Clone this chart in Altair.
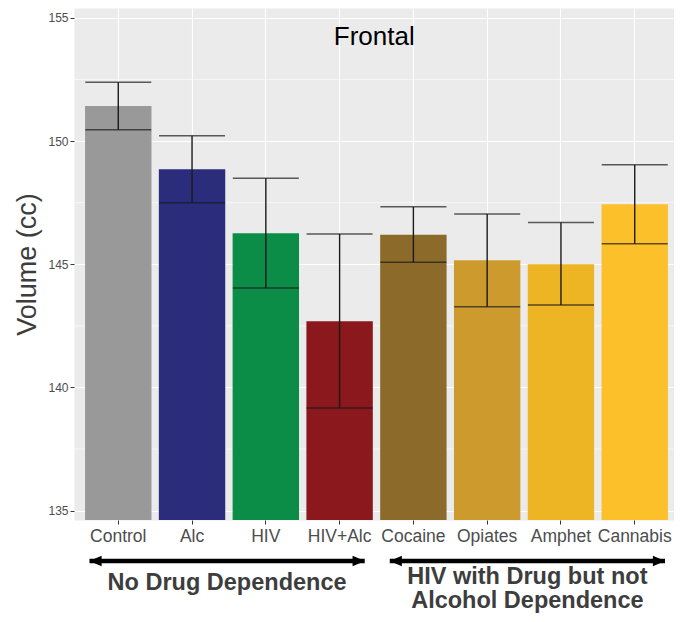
import altair as alt
import pandas as pd

# ---- data ----
groups = ["Control", "Alc", "HIV", "HIV+Alc", "Cocaine", "Opiates", "Amphet", "Cannabis"]
means = [151.42, 148.86, 146.26, 142.69, 146.20, 145.16, 145.00, 147.44]
err_hi = [152.39, 150.22, 148.49, 146.23, 147.33, 147.04, 146.69, 149.04]
err_lo = [150.46, 147.50, 144.04, 139.17, 145.08, 143.28, 143.35, 145.83]
colors = ["#999999", "#2b2d7c", "#0b8c47", "#8a181c", "#8b6a2a", "#cd9b2d", "#edb424", "#fcc02a"]

y_domain = [134.62, 155.40]
y_ticks = [135, 140, 145, 150, 155]
y_minor = [137.5, 142.5, 147.5, 152.5]

panel_title = "Frontal"
y_title = "Volume (cc)"

# group annotations below the axis (x in category slots from the panel's left edge)
PAD_L = 66
PLOT_W = 600
STEP = 73.78
slot_domain = [0, PLOT_W / STEP]
title_slot = 4.07
arrow_start = [0.21, 4.28]
arrow_end = [3.94, 8.01]
group_line1 = ["No Drug Dependence", "HIV with Drug but not"]
group_line2 = ["", "Alcohol Dependence"]

FONT = "Liberation Sans"

df = pd.DataFrame({"group": groups, "mean": means, "hi": err_hi, "lo": err_lo})
minor_df = pd.DataFrame({"v": y_minor})
arrows = pd.DataFrame({
    "start": arrow_start,
    "end": arrow_end,
    "mid": [(a + b) / 2 for a, b in zip(arrow_start, arrow_end)],
    "l1": group_line1,
    "l2": group_line2,
})
title_df = pd.DataFrame({"t": [panel_title], "x": [title_slot]})

po = (PLOT_W / STEP - 7.9) / 2
xenc = alt.X(
    "group:N",
    sort=groups,
    scale=alt.Scale(paddingInner=0.1, paddingOuter=po, align=0.15 / (2 * po)),
    axis=alt.Axis(
        title=None, labelAngle=0, grid=True, bandPosition=0.5, gridColor="white",
        gridWidth=1.1, tickColor="#333333", tickSize=4, tickWidth=1,
        labelFontSize=17.5, labelColor="#4d4d4d", labelPadding=3, domain=False,
        labelFont=FONT,
    ),
)
yscale = alt.Scale(domain=y_domain, nice=False, zero=False)
yaxis = alt.Axis(
    values=y_ticks, grid=True, gridColor="white", gridWidth=1.2,
    tickColor="#333333", tickSize=4, tickWidth=1, labelFontSize=12,
    labelColor="#4d4d4d", labelPadding=2, domain=False, title=y_title,
    titleFontSize=27, titleFontWeight="normal", titleColor="#3d3d3d",
    titlePadding=6, labelFont=FONT, titleFont=FONT,
)

minor = alt.Chart(minor_df).mark_rule(color="white", strokeWidth=0.6).encode(
    y=alt.Y("v:Q", scale=yscale, axis=yaxis)
)
bars = alt.Chart(df).mark_bar(clip=True).encode(
    x=xenc,
    y=alt.Y("mean:Q", scale=yscale, axis=yaxis),
    color=alt.Color("group:N", scale=alt.Scale(domain=groups, range=colors), legend=None),
)
vline = alt.Chart(df).mark_rule(color="#1a1a1a", strokeWidth=1.4).encode(
    x=xenc, y=alt.Y("lo:Q", scale=yscale), y2="hi:Q"
)
cap_hi = alt.Chart(df).mark_tick(color="#1a1a1a", thickness=1.5, size=66, orient="horizontal").encode(
    x=xenc, y=alt.Y("hi:Q", scale=yscale)
)
cap_lo = alt.Chart(df).mark_tick(color="#1a1a1a", thickness=1.5, size=66, orient="horizontal").encode(
    x=xenc, y=alt.Y("lo:Q", scale=yscale)
)
main = alt.layer(minor, bars, vline, cap_hi, cap_lo)

sx = alt.Scale(domain=slot_domain, nice=False, zero=False)
ARROW_Y = 553
line = alt.Chart(arrows).mark_rule(color="black", strokeWidth=4.5, strokeCap="butt").encode(
    x=alt.X("start:Q", scale=sx, axis=None), x2="end:Q", y=alt.value(ARROW_Y)
)
head_l = alt.Chart(arrows).mark_point(
    shape="M-1,0L1,-0.85L1,0.85Z", filled=True, opacity=1, color="black", size=150, xOffset=6
).encode(x=alt.X("start:Q", scale=sx, axis=None), y=alt.value(ARROW_Y))
head_r = alt.Chart(arrows).mark_point(
    shape="M1,0L-1,-0.85L-1,0.85Z", filled=True, opacity=1, color="black", size=150, xOffset=-6
).encode(x=alt.X("end:Q", scale=sx, axis=None), y=alt.value(ARROW_Y))

txt = dict(font=FONT, fontSize=23.5, fontWeight="bold", color="#3d3d3d", baseline="alphabetic")
lab1a = alt.Chart(arrows.iloc[[0]]).mark_text(**txt).encode(
    x=alt.X("mid:Q", scale=sx, axis=None), y=alt.value(582), text="l1:N")
lab2a = alt.Chart(arrows.iloc[[1]]).mark_text(**txt).encode(
    x=alt.X("mid:Q", scale=sx, axis=None), y=alt.value(576), text="l1:N")
lab2b = alt.Chart(arrows.iloc[[1]]).mark_text(**txt).encode(
    x=alt.X("mid:Q", scale=sx, axis=None), y=alt.value(600), text="l2:N")

ttl = alt.Chart(title_df).mark_text(
    font=FONT, fontSize=26, color="black", baseline="alphabetic"
).encode(x=alt.X("x:Q", scale=sx, axis=None), y=alt.value(37), text="t:N")

annot = alt.layer(line, head_l, head_r, lab1a, lab2a, lab2b, ttl)

chart = alt.layer(main, annot).resolve_scale(x="independent").properties(
    width=PLOT_W, height=512,
    padding={"left": PAD_L, "top": 0, "right": 0, "bottom": 94},
    autosize="none",
    background="white",
).configure_view(fill="#ebebeb", stroke="transparent")

chart.save("out.html", embed_options={"renderer": "svg", "actions": False})
